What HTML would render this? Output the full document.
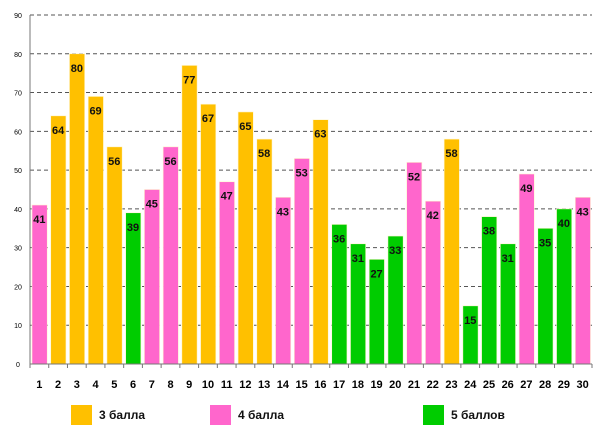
<!DOCTYPE html>
<html><head><meta charset="utf-8"><style>
body{margin:0;background:#fff;width:600px;height:435px;overflow:hidden;font-family:"Liberation Sans","DejaVu Sans",sans-serif}
</style></head><body>
<svg id="c" width="600" height="435"></svg>
<script>
const categories=[1,2,3,4,5,6,7,8,9,10,11,12,13,14,15,16,17,18,19,20,21,22,23,24,25,26,27,28,29,30];
const values=[41,64,80,69,56,39,45,56,77,67,47,65,58,43,53,63,36,31,27,33,52,42,58,15,38,31,49,35,40,43];
const groups=[4,3,3,3,3,5,4,4,3,3,4,3,3,4,4,3,5,5,5,5,4,4,3,5,5,5,4,5,5,4];
const yTicks=[0,10,20,30,40,50,60,70,80,90];
const legendLabels=["3 балла","4 балла","5 баллов"];
const colors={3:"#FFC000",4:"#FF66CC",5:"#00CC00"};
const NS="http://www.w3.org/2000/svg";
const svg=document.getElementById('c');
const x0=30,x1=592,y0=364,yTop=15,yMax=90;
const bw=(x1-x0)/categories.length;
const y=v=>y0-(v/yMax)*(y0-yTop);
const xc=i=>x0+bw*i;
function el(t,a,p){const e=document.createElementNS(NS,t);for(const k in a)e.setAttribute(k,a[k]);(p||svg).appendChild(e);return e;}
yTicks.forEach(t=>{
  if(t>0){const g=el('line',{x1:x0,x2:x1,y1:y(t),y2:y(t),stroke:'#555','stroke-dasharray':'4,3','stroke-width':1});
  
  }
  const tl=el('text',{x:18,y:y(t)+3,'font-size':7,'text-anchor':'middle',fill:'#000'});
  tl.textContent=t;
  
  
});
values.forEach((v,i)=>{
  const r=el('rect',{x:xc(i)+2,y:y(v),width:bw-3.5,height:y0-y(v),fill:colors[groups[i]],stroke:'#fff6d0','stroke-width':0.6});
  
  
  const t=el('text',{x:xc(i)+bw/2,y:y(v)+18,'font-size':11,'font-weight':'bold','text-anchor':'middle',fill:'#111'});
  t.textContent=v;
  
  
  const cl=el('text',{x:xc(i)+bw/2,y:388,'font-size':11,'font-weight':'bold','text-anchor':'middle',fill:'#000'});
  cl.textContent=categories[i];
  
  
});
for(let i=0;i<=categories.length;i++){
  const tk=el('line',{x1:xc(i),x2:xc(i),y1:y0,y2:y0+4,stroke:'#777'});
  
  
}
const ax=el('line',{x1:x0,x2:x0,y1:yTop,y2:y0,stroke:'#777'});


const bx=el('line',{x1:x0,x2:x1,y1:y0,y2:y0,stroke:'#777'});


const lx=[71,210,423];
legendLabels.forEach((l,i)=>{
  const r=el('rect',{x:lx[i],y:405,width:21,height:20,fill:colors[i+3]});
  
  
  const t=el('text',{x:lx[i]+28,y:419,'font-size':12,'font-weight':'bold',fill:'#111'});
  t.textContent=l;
  
  
});
</script>
</body></html>
